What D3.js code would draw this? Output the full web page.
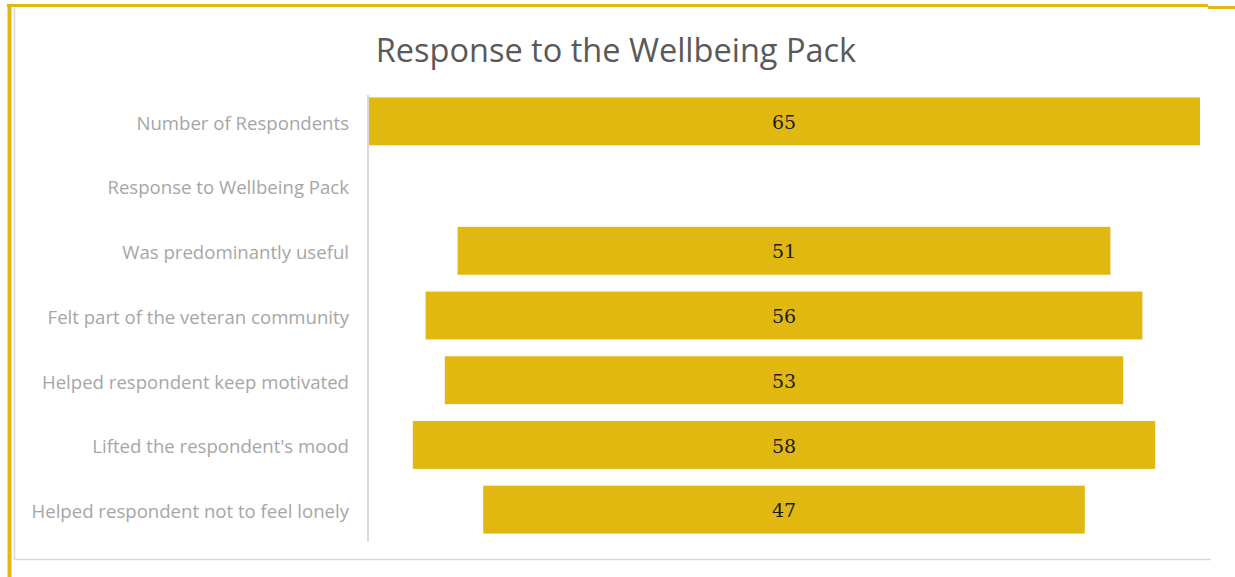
<!DOCTYPE html>
<html>
<head>
  <title>Response to the Wellbeing Pack</title>
  <script src="https://d3js.org/d3.v7.min.js"></script>
  <style>
    body { margin: 0; background: #fff; font-family: "Open Sans", sans-serif; }
    .cat-label { fill: #a6a6a6; font-family: "Open Sans", sans-serif; font-size: 18.6px; text-anchor: end; }
    .val-label { fill: #1a1a1a; font-family: "DejaVu Serif", "Liberation Serif", serif; font-size: 19px; text-anchor: middle; }
    .chart-title { fill: #595959; font-family: "Open Sans", sans-serif; font-size: 32.5px; text-anchor: middle; }
  </style>
</head>
<body>
  <div id="chart"></div>
  <script>
    const categories = [
      "Number of Respondents",
      "Response to Wellbeing Pack",
      "Was predominantly useful",
      "Felt part of the veteran community",
      "Helped respondent keep motivated",
      "Lifted the respondent's mood",
      "Helped respondent not to feel lonely"
    ];
    const values = [65, null, 51, 56, 53, 58, 47];

    const W = 1235, H = 577;
    const plot = {left: 368, right: 1200, top: 89, bottom: 542};
    const centre = (plot.left + plot.right) / 2;

    const svg = d3.select("#chart").append("svg")
      .attr("width", W).attr("height", H);

    // frame: light grey left/bottom border + yellow outer lines
    svg.append("path")
      .attr("d", "M14.5,8V559.5H1211")
      .attr("fill", "none").attr("stroke", "#d9d9d9").attr("stroke-width", 1.5);
    svg.append("line").attr("x1", 7).attr("x2", 1208).attr("y1", 5.5).attr("y2", 5.5)
      .attr("stroke", "#e1b80f").attr("stroke-width", 3);
    svg.append("line").attr("x1", 1208).attr("x2", W).attr("y1", 7.5).attr("y2", 7.5)
      .attr("stroke", "#e1b80f").attr("stroke-width", 3);
    svg.append("line").attr("x1", 9.5).attr("x2", 9.5).attr("y1", 4).attr("y2", H)
      .attr("stroke", "#e1b80f").attr("stroke-width", 4);

    const y = d3.scaleBand()
      .domain(categories)
      .range([plot.top, plot.bottom])
      .paddingInner(0.26)
      .paddingOuter(0.13);

    // half-width scale, bars centred like a funnel
    const half = d3.scaleLinear()
      .domain([0, d3.max(values)])
      .range([0, (plot.right - plot.left) / 2]);

    svg.append("text")
      .attr("class", "chart-title")
      .attr("x", 616).attr("y", 62)
      .text("Response to the Wellbeing Pack");

    const rows = categories.map((c, i) => ({cat: c, v: values[i]}));

    svg.selectAll(".bar")
      .data(rows.filter(d => d.v != null))
      .join("rect")
        .attr("class", "bar")
        .attr("fill", "#e1b80f")
        .attr("x", d => centre - half(d.v))
        .attr("width", d => 2 * half(d.v))
        .attr("y", d => y(d.cat))
        .attr("height", y.bandwidth());

    svg.selectAll(".val-label")
      .data(rows.filter(d => d.v != null))
      .join("text")
        .attr("class", "val-label")
        .attr("x", centre)
        .attr("y", d => y(d.cat) + y.bandwidth() / 2 + 1)
        .attr("dy", "0.35em")
        .text(d => d.v);

    // category axis
    const axis = svg.append("g")
      .attr("transform", `translate(${plot.left},0)`)
      .call(d3.axisLeft(y).tickSize(0).tickPadding(19));
    axis.attr("font-family", null).attr("font-size", null);
    axis.select(".domain").attr("stroke", "#d9d9d9").attr("stroke-width", 2)
      .attr("d", `M0,${plot.top + 6}V${plot.bottom}`);
    axis.selectAll(".tick text")
      .attr("class", "cat-label")
      .attr("fill", null)
      .attr("dy", "0.45em");
  </script>
</body>
</html>
